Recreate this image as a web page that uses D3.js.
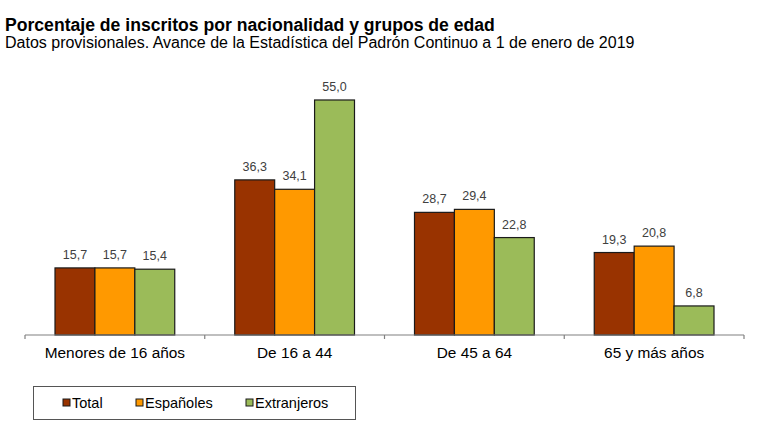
<!DOCTYPE html>
<html>
<head>
<meta charset="utf-8">
<script src="https://cdn.jsdelivr.net/npm/d3@7"></script>
<style>
  body { margin: 0; background: #fff; }
  text { font-family: Arial, "Liberation Sans", sans-serif; }
</style>
</head>
<body>
<div id="chart"></div>
<script>
// datos
const grupos = ["Menores de 16 años", "De 16 a 44", "De 45 a 64", "65 y más años"];
const series = ["Total", "Españoles", "Extranjeros"];
const total = [15.7, 36.3, 28.7, 19.3];
const espanoles = [15.7, 34.1, 29.4, 20.8];
const extranjeros = [15.4, 55.0, 22.8, 6.8];

const colores = ["#993300", "#ff9900", "#9bbb59"];

const W = 768, H = 435;
const svg = d3.select("#chart").append("svg")
  .attr("width", W)
  .attr("height", H);

const valores = [total, espanoles, extranjeros];
const data = grupos.map((g, i) => ({
  grupo: g,
  vals: series.map((s, j) => ({ serie: s, idx: j, v: valores[j][i] }))
}));

const x0 = d3.scaleBand()
  .domain(grupos)
  .range([25, 744]);

const x1 = d3.scaleBand()
  .domain(series)
  .range([30, x0.bandwidth() - 30]);

const y = d3.scaleLinear()
  .domain([0, 60])
  .range([335, 335 - 60 * 4.273]);

const col = d3.scaleOrdinal().domain(series).range(colores);

// titulo
svg.append("text")
  .attr("x", 5)
  .attr("y", 30.5)
  .attr("font-size", "17.6px")
  .attr("font-weight", "bold")
  .attr("fill", "#000")
  .text("Porcentaje de inscritos por nacionalidad y grupos de edad");

svg.append("text")
  .attr("x", 5)
  .attr("y", 48)
  .attr("font-size", "16px")
  .attr("fill", "#000")
  .text("Datos provisionales. Avance de la Estadística del Padrón Continuo a 1 de enero de 2019");

// barras
const g = svg.append("g")
  .selectAll("g")
  .data(data)
  .enter().append("g")
  .attr("transform", d => "translate(" + x0(d.grupo) + ",0)");

g.selectAll("rect")
  .data(d => d.vals)
  .enter().append("rect")
  .attr("x", d => x1(d.serie))
  .attr("y", d => y(d.v))
  .attr("width", x1.bandwidth())
  .attr("height", d => y(0) - y(d.v))
  .attr("fill", d => col(d.serie))
  .attr("stroke", "#1a1a1a")
  .attr("stroke-width", 1.2);

g.selectAll("text")
  .data(d => d.vals)
  .enter().append("text")
  .attr("x", d => x1(d.serie) + x1.bandwidth() / 2)
  .attr("y", d => y(d.v) - 9)
  .attr("text-anchor", "middle")
  .attr("font-size", "12.5px")
  .attr("fill", "#404040")
  .text(d => d3.format(".1f")(d.v).replace(".", ","));

// eje x
const eje = svg.append("g").attr("stroke", "#808080").attr("stroke-width", 1.2);
eje.append("line")
  .attr("x1", x0.range()[0]).attr("x2", x0.range()[1])
  .attr("y1", y(0)).attr("y2", y(0));
eje.selectAll("line.tick")
  .data(grupos.map(d => x0(d)).concat([x0.range()[1]]))
  .enter().append("line")
  .attr("class", "tick")
  .attr("x1", d => d).attr("x2", d => d)
  .attr("y1", y(0)).attr("y2", y(0) + 4);

svg.append("g")
  .selectAll("text")
  .data(grupos)
  .enter().append("text")
  .attr("x", d => x0(d) + x0.bandwidth() / 2)
  .attr("y", 358)
  .attr("text-anchor", "middle")
  .attr("font-size", "15.4px")
  .attr("fill", "#000")
  .text(d => d);

// leyenda
svg.append("rect")
  .attr("x", 33.5).attr("y", 386.5)
  .attr("width", 322).attr("height", 33)
  .attr("fill", "none")
  .attr("stroke", "#555")
  .attr("stroke-width", 1);

const legX = [63, 136, 246];
const leg = svg.append("g")
  .selectAll("g")
  .data(series)
  .enter().append("g")
  .attr("transform", (d, i) => "translate(" + legX[i] + ",399)");

leg.append("rect")
  .attr("width", 7).attr("height", 7)
  .attr("fill", d => col(d))
  .attr("stroke", "#1a1a1a")
  .attr("stroke-width", 1);

leg.append("text")
  .attr("x", 9)
  .attr("y", 8.5)
  .attr("font-size", "14.5px")
  .attr("fill", "#000")
  .text(d => d);
</script>
</body>
</html>
